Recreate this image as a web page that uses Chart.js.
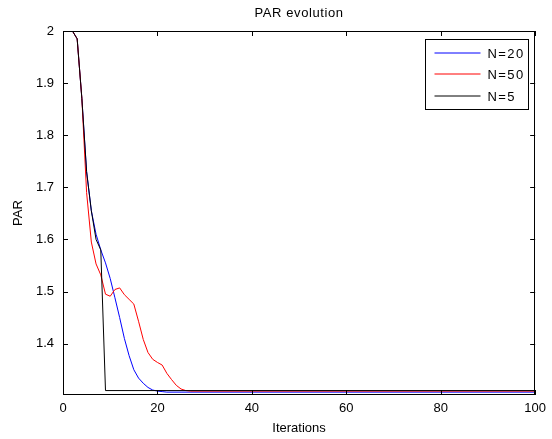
<!DOCTYPE html>
<html>
<head>
<meta charset="utf-8">
<script src="https://cdn.jsdelivr.net/npm/chart.js@4.4.0/dist/chart.umd.min.js"></script>
<style>
html, body { margin: 0; padding: 0; background: #fff; }
</style>
</head>
<body>
<canvas id="chart_par" width="552" height="439"></canvas>
<script>
// datos
var titulo = 'PAR evolution';
var etiquetaX = 'Iterations';
var etiquetaY = 'PAR';

var ticksX = [0, 20, 40, 60, 80, 100];
var ticksY = [1.4, 1.5, 1.6, 1.7, 1.8, 1.9, 2];

var iterN20 = [1, 2, 3, 4, 5, 6, 7, 8, 9, 10, 11, 12, 13, 14, 15, 16, 17, 18, 19, 20, 21, 22, 25, 100];
var parN20 = [2, 2, 1.985, 1.87, 1.73, 1.655, 1.61, 1.58, 1.555, 1.525, 1.488, 1.45, 1.41, 1.377, 1.35, 1.334, 1.324, 1.316, 1.311, 1.309, 1.308, 1.307, 1.307, 1.307];

var iterN50 = [1, 2, 3, 4, 5, 6, 7, 8, 9, 10, 11, 12, 13, 14, 15, 16, 17, 18, 19, 20, 21, 22, 23, 24, 25, 26, 27, 100];
var parN50 = [2, 2, 1.985, 1.87, 1.69, 1.595, 1.553, 1.532, 1.495, 1.491, 1.504, 1.507, 1.494, 1.485, 1.476, 1.443, 1.408, 1.383, 1.37, 1.364, 1.359, 1.343, 1.331, 1.32, 1.313, 1.31, 1.309, 1.309];

var iterN5 = [1, 2, 3, 4, 5, 6, 7, 8, 9, 100];
var parN5 = [2, 2, 1.985, 1.87, 1.73, 1.655, 1.6, 1.58, 1.31, 1.31];

var nombres = ['N=20', 'N=50', 'N=5'];
var colores = ['#0000ff', '#ff0000', '#000000'];

function puntos(xs, ys) {
    var res = [];
    for (var i = 0; i < xs.length; i++) {
        res.push({ x: xs[i], y: ys[i] });
    }
    return res;
}

// marco tipo matlab: caja, ticks hacia dentro, titulo y leyenda
const marcoMatlab = {
    id: 'marcoMatlab',
    afterDatasetsDraw(chart) {
        const ctx = chart.ctx;
        const a = chart.chartArea;
        const sx = chart.scales.x;
        const sy = chart.scales.y;
        ctx.save();
        ctx.strokeStyle = '#000';
        ctx.lineWidth = 1;
        ctx.strokeRect(Math.round(a.left) + 0.5, Math.round(a.top) + 0.5,
            Math.round(a.right - a.left) - 1, Math.round(a.bottom - a.top) - 1);
        ctx.beginPath();
        sx.ticks.forEach(t => {
            var px = Math.round(sx.getPixelForValue(t.value)) + 0.5;
            ctx.moveTo(px, a.bottom);
            ctx.lineTo(px, a.bottom - 5);
            ctx.moveTo(px, a.top);
            ctx.lineTo(px, a.top + 5);
        });
        sy.ticks.forEach(t => {
            var py = Math.round(sy.getPixelForValue(t.value)) + 0.5;
            ctx.moveTo(a.left, py);
            ctx.lineTo(a.left + 5, py);
            ctx.moveTo(a.right, py);
            ctx.lineTo(a.right - 5, py);
        });
        ctx.stroke();

        // titulo
        ctx.fillStyle = '#000';
        ctx.font = '13px "Liberation Sans", Arial, sans-serif';
        ctx.letterSpacing = '0.6px';
        ctx.textAlign = 'center';
        ctx.textBaseline = 'middle';
        ctx.fillText(titulo, (a.left + a.right) / 2, 13);

        // leyenda
        var bx = Math.round(a.right) - 110 + 0.5;
        var by = Math.round(a.top) + 8 + 0.5;
        ctx.fillStyle = '#fff';
        ctx.fillRect(bx, by, 103, 70);
        ctx.strokeStyle = '#000';
        ctx.strokeRect(bx, by, 103, 70);
        ctx.font = '13px "Liberation Sans", Arial, sans-serif';
        ctx.letterSpacing = '1.4px';
        ctx.textAlign = 'left';
        for (var i = 0; i < nombres.length; i++) {
            var yy = Math.round(by + 13 + i * 21.7);
            ctx.beginPath();
            ctx.strokeStyle = colores[i];
            ctx.moveTo(bx + 9, yy);
            ctx.lineTo(bx + 55, yy);
            ctx.stroke();
            ctx.fillStyle = '#000';
            ctx.fillText(nombres[i], bx + 62, yy + 1);
        }
        ctx.restore();
    }
};

function chartCreate() {
    const data = {
        datasets: [{
            label: nombres[0],
            borderColor: colores[0],
            backgroundColor: colores[0],
            data: puntos(iterN20, parN20),
            order: 2
        }, {
            label: nombres[1],
            borderColor: colores[1],
            backgroundColor: colores[1],
            data: puntos(iterN50, parN50),
            order: 1
        }, {
            label: nombres[2],
            borderColor: colores[2],
            backgroundColor: colores[2],
            data: puntos(iterN5, parN5),
            order: 0
        }]
    };
    const fuente = { family: '"Liberation Sans", Arial, sans-serif', size: 13 };
    const config = {
        type: 'line',
        data: data,
        options: {
            responsive: false,
            animation: false,
            layout: { padding: { left: 0, right: 16, top: 31, bottom: 0 } },
            elements: {
                line: { borderWidth: 1, tension: 0 },
                point: { radius: 0 }
            },
            plugins: {
                legend: { display: false },
                title: { display: false },
                tooltip: { enabled: false }
            },
            scales: {
                x: {
                    type: 'linear',
                    min: 0,
                    max: 100,
                    afterBuildTicks: s => { s.ticks = ticksX.map(v => ({ value: v })); },
                    afterFit: s => { s.height = 44; },
                    grid: { display: false, drawTicks: false },
                    border: { display: false },
                    ticks: { color: '#000', font: fuente, padding: 6, maxRotation: 0 },
                    title: { display: true, text: etiquetaX, color: '#000', font: fuente, padding: { top: 0, bottom: 3 } }
                },
                y: {
                    type: 'linear',
                    min: 1.3015,
                    max: 2,
                    afterBuildTicks: s => { s.ticks = ticksY.map(v => ({ value: v })); },
                    afterFit: s => { s.width = 63; },
                    grid: { display: false, drawTicks: false },
                    border: { display: false },
                    ticks: {
                        color: '#000', font: fuente, padding: 9,
                        callback: v => (v === 2 ? '2' : v.toFixed(1))
                    },
                    title: { display: true, text: etiquetaY, color: '#000', font: fuente, padding: { top: 11, bottom: 0 } }
                }
            }
        },
        plugins: [marcoMatlab]
    };
    const miChart = new Chart(document.getElementById('chart_par'), config);
}

window.onload = function() {
    chartCreate();
}
</script>
</body>
</html>
